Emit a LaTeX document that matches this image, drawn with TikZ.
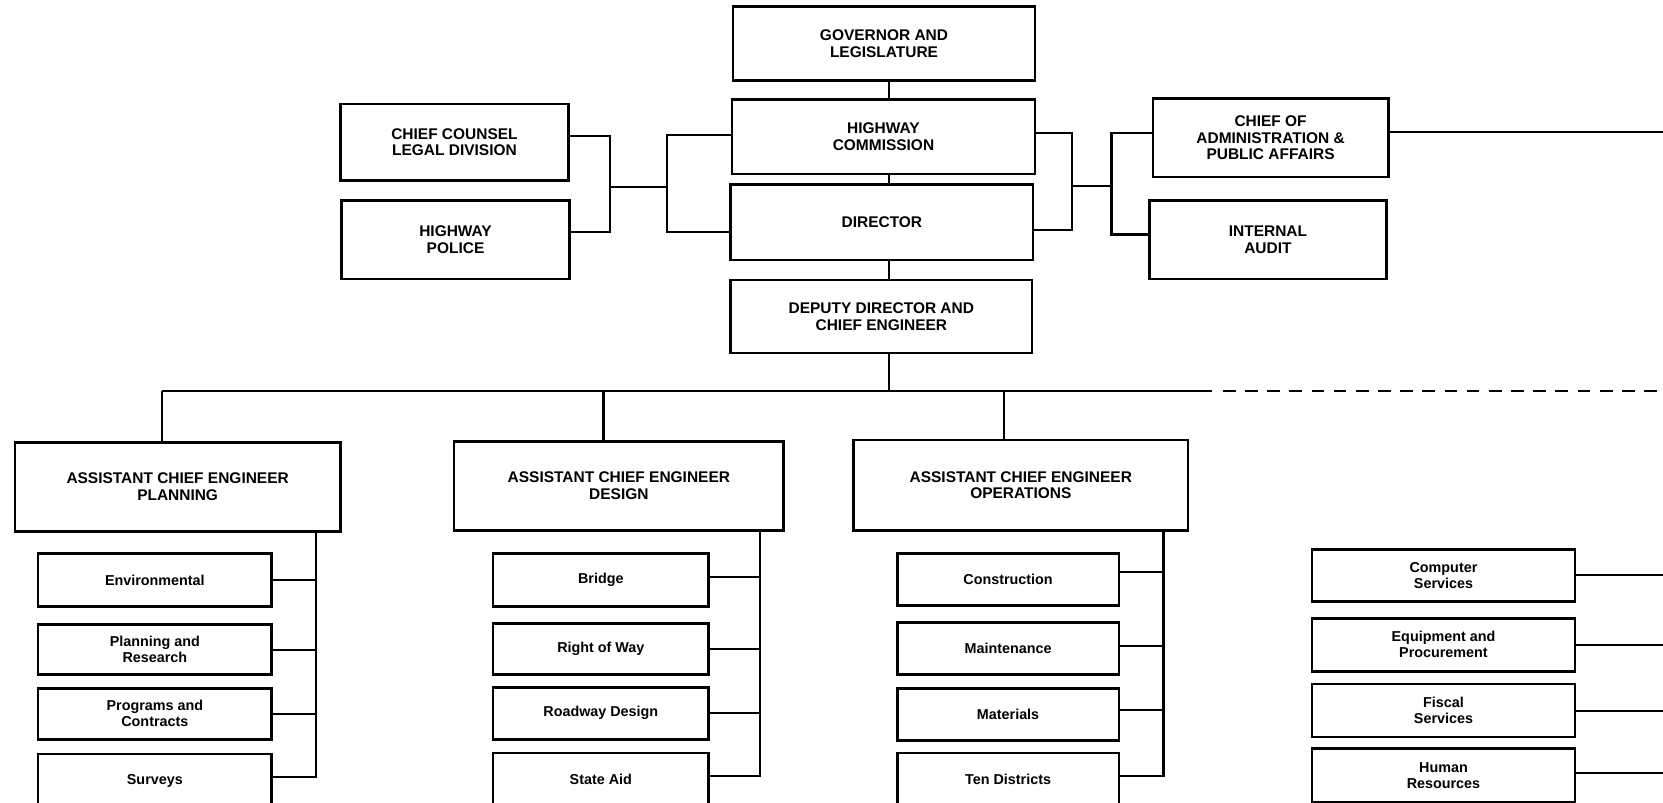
\documentclass[tikz,border=0pt]{standalone}
\usepackage{fontspec}
\setmainfont{Liberation Sans}
\tikzset{
  box/.style={draw, line width=1.4pt, inner sep=0pt, outer sep=0pt, align=center,
    font=\bfseries\fontsize{8.3}{8.9}\selectfont},
  sbox/.style={box, font=\bfseries\fontsize{7.7}{8.6}\selectfont},
  conn/.style={line width=1.1pt},
  dashconn/.style={line width=1.1pt, dash pattern=on 6.8pt off 5.1pt}
}
% \bx[style]{name}{x1}{y1}{x2}{y2}{text}
\newcommand\bx[7][box]{%
  \node[#1, minimum width={(#5-#3)*0.02cm}, minimum height={(#6-#4)*0.02cm}]
    (#2) at ({(#3+#5)/2},{(#4+#6)/2}) {#7};}
\begin{document}
\begin{tikzpicture}[x=0.02cm, y=-0.02cm]
\useasboundingbox (0,0) rectangle (1568,757);
\fill[white] (0,0) rectangle (1568,757);
\clip (0,0) rectangle (1568,757);

% ---- top column
\bx{gov}{691}{6}{976}{76}{GOVERNOR AND\\LEGISLATURE}
\bx{hc}{690}{94}{976}{164}{HIGHWAY\\COMMISSION}
\bx{dir}{689}{174}{974}{245}{DIRECTOR}
\bx{dep}{689}{264}{973}{333}{DEPUTY DIRECTOR AND\\CHIEF ENGINEER}

\bx{cc}{321}{98}{536}{170}{CHIEF COUNSEL\\LEGAL DIVISION}
\bx{hp}{322}{189}{537}{263}{HIGHWAY\\POLICE}
\bx{coa}{1087}{93}{1309}{167}{CHIEF OF\\ADMINISTRATION \&\\PUBLIC AFFAIRS}
\bx{ia}{1084}{189}{1307}{263}{INTERNAL\\AUDIT}

% ---- assistant chief engineers
\bx{acep}{14}{417}{321}{501}{ASSISTANT CHIEF ENGINEER\\PLANNING}
\bx{aced}{428}{416}{739}{500}{ASSISTANT CHIEF ENGINEER\\DESIGN}
\bx{aceo}{805}{415}{1120}{500}{ASSISTANT CHIEF ENGINEER\\OPERATIONS}

% ---- planning column
\bx[sbox]{env}{36}{522}{256}{572}{Environmental}
\bx[sbox]{pr}{36}{589}{256}{636}{Planning and\\Research}
\bx[sbox]{pc}{36}{649}{256}{697}{Programs and\\Contracts}
\bx[sbox]{sur}{36}{711}{256}{761}{Surveys}

% ---- design column
\bx[sbox]{bri}{465}{522}{668}{572}{Bridge}
\bx[sbox]{row}{465}{588}{668}{636}{Right of Way}
\bx[sbox]{rd}{465}{648}{668}{697}{Roadway Design}
\bx[sbox]{sa}{465}{710}{668}{760}{State Aid}

% ---- operations column
\bx[sbox]{con}{846}{522}{1055}{571}{Construction}
\bx[sbox]{mai}{846}{587}{1055}{636}{Maintenance}
\bx[sbox]{mat}{846}{649}{1055}{698}{Materials}
\bx[sbox]{ten}{846}{710}{1055}{760}{Ten Districts}

% ---- administration column
\bx[sbox]{cs}{1237}{518}{1485}{567}{Computer\\Services}
\bx[sbox]{ep}{1237}{583}{1485}{633}{Equipment and\\Procurement}
\bx[sbox]{fs}{1237}{645}{1485}{695}{Fiscal\\Services}
\bx[sbox]{hr}{1237}{706}{1485}{756}{Human\\Resources}

% ---- helper coordinates
\coordinate (cx) at (838,0);
\coordinate (lsp) at (575,176);
\coordinate (lsp2) at (629,176);
\coordinate (rsp) at (1011,175);
\coordinate (rsp2) at (1048,175);
\coordinate (edge) at (1575,0);
\coordinate (busL) at (153,369);
\coordinate (busD) at (569,369);
\coordinate (busO) at (947,369);
\coordinate (busS) at (1143,369);
\coordinate (busDash) at (1153,369);
\coordinate (busE) at (1575,369);
\coordinate (ps) at (298,0);
\coordinate (ds) at (717,0);
\coordinate (os) at (1097,0);

% ---- central spine
\draw[conn] (gov.south -| cx) -- (hc.north -| cx);
\draw[conn] (hc.south -| cx) -- (dir.north -| cx);
\draw[conn] (dir.south -| cx) -- (dep.north -| cx);
\draw[conn] (dep.south -| cx) -- (busL -| cx);

% ---- left brackets
\draw[conn] ([yshift=3.4pt]cc.east) -| (lsp) |- ([yshift=4pt]hp.east);
\draw[conn] (lsp) -- (lsp2);
\draw[conn] ([yshift=1.1pt]hc.west) -| (lsp2) |- ([yshift=-5.4pt]dir.west);

% ---- right brackets
\draw[conn] ([yshift=2.3pt]hc.east) -| (rsp) |- ([yshift=-4.3pt]dir.east);
\draw[conn] (rsp) -- (rsp2);
\draw[conn] ([yshift=2.8pt]coa.west) -| (rsp2) |- ([yshift=2.8pt]ia.west);
\draw[conn] ([yshift=3.1pt]coa.east) -- ([yshift=3.1pt]coa.east -| edge);

% ---- main bus
\draw[conn] (busL) -- (busS);
\draw[dashconn] (busDash) -- (busE);
\draw[conn] (busL) -- (busL |- acep.north);
\draw[conn] (busD) -- (busD |- aced.north);
\draw[conn] (busO) -- (busO |- aceo.north);

% ---- planning bracket
\draw[conn] (env.east) -- (env.east -| ps);
\draw[conn] (pr.east) -- (pr.east -| ps);
\draw[conn] (pc.east) -- (pc.east -| ps);
\draw[conn] ([yshift=2pt]sur.east) -| (acep.south -| ps);

% ---- design bracket
\draw[conn] ([yshift=1.7pt]bri.east) -- ([yshift=1.7pt]bri.east -| ds);
\draw[conn] (row.east) -- (row.east -| ds);
\draw[conn] (rd.east) -- (rd.east -| ds);
\draw[conn] ([yshift=1.7pt]sa.east) -| (aced.south -| ds);

% ---- operations bracket
\draw[conn] ([yshift=4.2pt]con.east) -- ([yshift=4.2pt]con.east -| os);
\draw[conn] ([yshift=1.4pt]mai.east) -- ([yshift=1.4pt]mai.east -| os);
\draw[conn] ([yshift=2.5pt]mat.east) -- ([yshift=2.5pt]mat.east -| os);
\draw[conn] ([yshift=1.7pt]ten.east) -| (aceo.south -| os);

% ---- administration lines to the right edge
\draw[conn] (cs.east) -- (cs.east -| edge);
\draw[conn] (ep.east) -- (ep.east -| edge);
\draw[conn] (fs.east) -- (fs.east -| edge);
\draw[conn] ([yshift=1.1pt]hr.east) -- ([yshift=1.1pt]hr.east -| edge);
\end{tikzpicture}
\end{document}
